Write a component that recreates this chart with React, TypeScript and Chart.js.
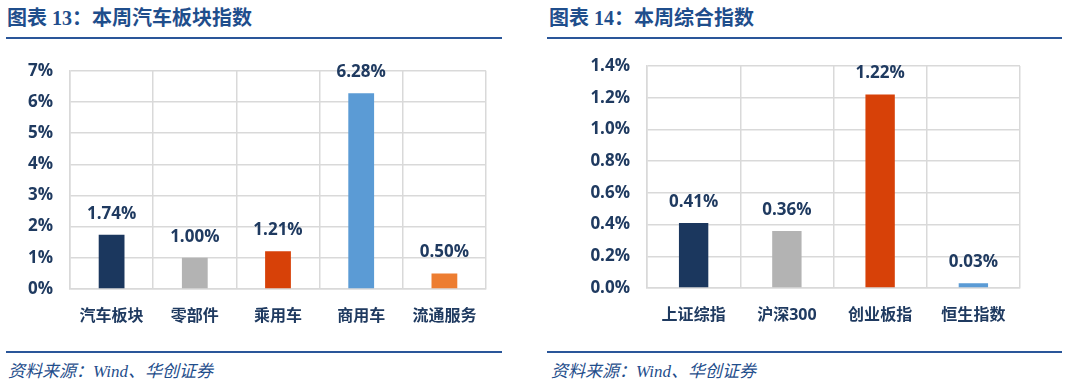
import React, { useEffect, useRef } from "react";
import { Chart, registerables } from "chart.js";

Chart.register(...registerables);

const leftCategories = ["汽车板块", "零部件", "乘用车", "商用车", "流通服务"];
const leftValues = [1.74, 1.0, 1.21, 6.28, 0.5];
const leftColors = ["#1B375E", "#B3B3B3", "#D74108", "#5B9BD5", "#ED7D31"];
const leftTicks = { min: 0, max: 7, step: 1, decimals: 0 };

const rightCategories = ["上证综指", "沪深300", "创业板指", "恒生指数"];
const rightValues = [0.41, 0.36, 1.22, 0.03];
const rightColors = ["#1B375E", "#B3B3B3", "#D74108", "#5B9BD5"];
const rightTicks = { min: 0, max: 1.4, step: 0.2, decimals: 1 };

const TEXT_NAVY = "#1F3A60";
const TITLE_BLUE = "#1F4E8C";
const GRID = "#D9D9D9";
const FONT = '"Open Sans", "Noto Sans CJK SC", sans-serif';

const labelPlugin = {
  id: "valueLabels",
  afterDatasetsDraw(chart: any) {
    const ctx = chart.ctx;
    const meta = chart.getDatasetMeta(0);
    const data = chart.data.datasets[0].data as number[];
    ctx.save();
    ctx.font = `bold 17px ${FONT}`;
    ctx.fillStyle = TEXT_NAVY;
    ctx.textAlign = "center";
    ctx.textBaseline = "middle";
    meta.data.forEach((bar: any, i: number) => {
      ctx.fillText(data[i].toFixed(2) + "%", bar.x, bar.y - 21);
    });
    ctx.restore();
  },
};

function BarChart(props: {
  categories: string[];
  values: number[];
  colors: string[];
  ticks: { min: number; max: number; step: number; decimals: number };
  yWidth: number;
  xHeight: number;
  padTop: number;
  padRight: number;
  barPct: number;
  width: number;
  height: number;
}) {
  const ref = useRef<HTMLCanvasElement>(null);
  useEffect(() => {
    const chart = new Chart(ref.current!, {
      type: "bar",
      data: {
        labels: props.categories,
        datasets: [
          {
            data: props.values,
            backgroundColor: props.colors,
            categoryPercentage: 1,
            barPercentage: props.barPct,
          },
        ],
      },
      options: {
        animation: false,
        responsive: false,
        maintainAspectRatio: false,
        layout: { padding: { top: props.padTop, right: props.padRight, left: 0, bottom: 0 } },
        plugins: { legend: { display: false }, tooltip: { enabled: false } },
        scales: {
          x: {
            grid: { color: GRID, drawTicks: false, lineWidth: 1.5 },
            border: { color: GRID, width: 1.5 },
            ticks: {
              color: TEXT_NAVY,
              font: { family: FONT, size: 16, weight: "bold" },
              padding: 18,
              maxRotation: 0,
            },
            afterFit: (s: any) => {
              s.height = props.xHeight;
              s.paddingLeft = 0;
              s.paddingRight = 0;
            },
          },
          y: {
            min: props.ticks.min,
            max: props.ticks.max,
            grid: { color: GRID, drawTicks: false, lineWidth: 1.5 },
            border: { color: GRID, width: 1.5 },
            ticks: {
              stepSize: props.ticks.step,
              color: TEXT_NAVY,
              font: { family: FONT, size: 17, weight: "bold" },
              padding: 17,
              callback: (v: any) => Number(v).toFixed(props.ticks.decimals) + "%",
            },
            afterFit: (s: any) => {
              s.width = props.yWidth;
              s.paddingTop = 0;
              s.paddingBottom = 0;
            },
          },
        },
      },
      plugins: [labelPlugin],
    });
    return () => chart.destroy();
  }, []);
  return <canvas ref={ref} width={props.width} height={props.height} style={{ width: props.width, height: props.height, display: "block" }} />;
}

const titleStyle: React.CSSProperties = {
  position: "absolute",
  top: 5,
  fontFamily: '"Liberation Serif", "Noto Sans CJK SC", serif',
  fontWeight: "bold",
  fontSize: 20,
  color: TITLE_BLUE,
  whiteSpace: "nowrap",
  lineHeight: "26px",
};

const sourceStyle: React.CSSProperties = {
  position: "absolute",
  top: 361,
  fontFamily: '"Liberation Serif", "Noto Sans CJK SC", serif',
  fontStyle: "italic",
  fontSize: 17,
  color: TITLE_BLUE,
  whiteSpace: "nowrap",
  lineHeight: "22px",
};

const lineStyle = (left: number, top: number, width: number): React.CSSProperties => ({
  position: "absolute",
  left,
  top,
  width,
  height: 2,
  background: "#2A5699",
});

export default function App() {
  return (
    <div style={{ position: "absolute", left: 0, top: 0, width: 1066, height: 387, background: "#fff", overflow: "hidden" }}>
      <div style={{ ...titleStyle, left: 7 }}>图表 13：本周汽车板块指数</div>
      <div style={{ ...titleStyle, left: 549 }}>图表 14：本周综合指数</div>
      <div style={lineStyle(6, 37, 496)} />
      <div style={lineStyle(547, 37, 515)} />
      <div style={{ position: "absolute", left: 0, top: 50 }}>
        <BarChart
          categories={leftCategories}
          values={leftValues}
          colors={leftColors}
          ticks={leftTicks}
          yWidth={70}
          xHeight={41}
          padTop={20.7}
          padRight={44}
          barPct={0.31}
          width={530}
          height={280}
        />
      </div>
      <div style={{ position: "absolute", left: 540, top: 50 }}>
        <BarChart
          categories={rightCategories}
          values={rightValues}
          colors={rightColors}
          ticks={rightTicks}
          yWidth={107}
          xHeight={42}
          padTop={16}
          padRight={46}
          barPct={0.315}
          width={526}
          height={280}
        />
      </div>
      <div style={lineStyle(6, 351, 496)} />
      <div style={lineStyle(547, 351, 515)} />
      <div style={{ ...sourceStyle, left: 8 }}>资料来源：Wind、华创证券</div>
      <div style={{ ...sourceStyle, left: 551 }}>资料来源：Wind、华创证券</div>
    </div>
  );
}
